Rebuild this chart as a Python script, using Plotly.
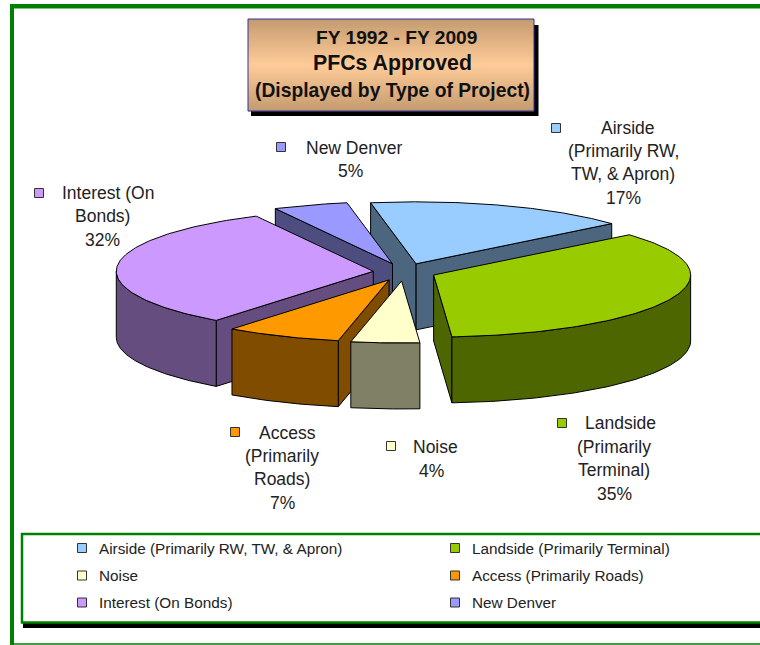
import numpy as np
import plotly.graph_objects as go

# ---- data ----
categories = ["Airside (Primarily RW, TW, & Apron)", "Landside (Primarily Terminal)", "Noise",
              "Access (Primarily Roads)", "Interest (On Bonds)", "New Denver"]
shares = [16.6, 35.1, 4.3, 7.3, 32.0, 4.7]
explode = [0.14, 0.125, 0.145, 0.14, 0.12, 0.14]
title_lines = ["FY 1992 - FY 2009", "PFCs Approved", "(Displayed by Type of Project)"]
label_lines = [
    ["Airside", "(Primarily RW,", "TW, & Apron)", "17%"],
    ["Landside", "(Primarily", "Terminal)", "35%"],
    ["Noise", "4%"],
    ["Access", "(Primarily", "Roads)", "7%"],
    ["Interest (On", "Bonds)", "32%"],
    ["New Denver", "5%"],
]

# ---- styles / layout ----
top_colors = ["#99CCFF", "#99CC00", "#FFFFCC", "#FF9900", "#CC99FF", "#9999FF"]
wall_colors = ["#4D6680", "#4D6600", "#808066", "#804D00", "#664D80", "#4D4D80"]
draw_order = [0, 5, 4, 1, 3, 2]
CX, CY, RX, RY, DEPTH, START = 404, 272, 257, 62, 66, -10.2
GREEN = "#008000"
FONT = "Liberation Sans, Arial, sans-serif"
INK = "#222222"

label_x = [[628, 623, 623, 623], [620, 614, 614, 614], [435, 431], [287, 282, 282, 282], [108, 102, 102], [354, 350]]
label_y = [[127.5, 150.5, 173.5, 197.5], [422.5, 446.5, 469.5, 493.5], [446.5, 470.5], [432.5, 455.5, 478.5, 502.5],
           [192.5, 215.5, 239.5], [147.5, 170.5]]
key_x = [556, 562, 391, 235, 39, 281]
key_y = [128, 423, 446, 432, 193, 147]
legend_x = [82, 455, 82, 455, 82, 455]
legend_y = [548, 548, 575.5, 575.5, 602.5, 602.5]
title_x = [396.5, 392, 392]
title_y = [37, 63, 90.5]
title_size = [19.2, 21.3, 19.3]

fig = go.Figure()


def poly(xs, ys, fill):
    fig.add_trace(go.Scatter(x=xs, y=ys, mode="lines", fill="toself", fillcolor=fill,
                             line=dict(color="#000000", width=1), hoverinfo="skip", showlegend=False))


def rim(t, ax, ay):
    r = np.radians(t)
    return ax + RX * np.sin(r), ay - RY * np.cos(r)


edges = START + np.cumsum([0] + shares) * 3.6
for i in draw_order:
    t0, t1 = edges[i], edges[i + 1]
    mid = np.radians((t0 + t1) / 2)
    ax = CX + explode[i] * RX * np.sin(mid)
    ay = CY - explode[i] * RY * np.cos(mid)
    # cut faces that look toward the viewer
    for t, visible in ((t0, np.sin(np.radians(t0)) < 0), (t1, np.sin(np.radians(t1)) > 0)):
        if visible:
            ex, ey = rim(t, ax, ay)
            poly([ax, ex, ex, ax, ax], [ay, ey, ey + DEPTH, ay + DEPTH, ay], wall_colors[i])
    # outer wall, front half only
    a0, a1 = max(t0, 90), min(t1, 270)
    if a1 > a0:
        ts = np.linspace(a0, a1, 80)
        rx, ry = rim(ts, ax, ay)
        poly(np.r_[rx, rx[::-1], rx[0]], np.r_[ry, ry[::-1] + DEPTH, ry[0]], wall_colors[i])
    # top face
    ts = np.linspace(t0, t1, 120)
    rx, ry = rim(ts, ax, ay)
    poly(np.r_[ax, rx, ax], np.r_[ay, ry, ay], top_colors[i])

# keys beside the slice labels and in the legend box
fig.add_trace(go.Scatter(x=key_x + legend_x, y=key_y + legend_y, mode="markers", showlegend=False, hoverinfo="skip",
                         marker=dict(symbol="square", size=9, color=top_colors + top_colors,
                                     line=dict(color="#333333", width=1))))

shapes = []


def rect(x0, y0, x1, y1, fill=None, line=None, lw=0):
    shapes.append(dict(type="rect", xref="x", yref="y", x0=x0, y0=y0, x1=x1, y1=y1, layer="below",
                       fillcolor=fill or "rgba(0,0,0,0)", line=dict(color=line or "rgba(0,0,0,0)", width=lw)))


# outer frame
rect(10, 4, 770, 8.5, fill=GREEN)
rect(10, 4, 14, 645, fill=GREEN)
rect(10, 643.3, 770, 644.8, fill=GREEN)
# title box with gradient
rect(251, 25, 538.5, 116, fill="#000000")
T0, T1 = 19, 111
for k in range(T0, T1):
    f = 1 - abs((k + 0.5 - T0) / (T1 - T0) - 0.5) * 2
    c = [196 + (255 - 196) * f, 155 + (204 - 155) * f, 112 + (153 - 112) * f]
    rect(248, k, 534, k + 1.2, fill="rgb(%d,%d,%d)" % tuple(c))
rect(248, 19, 534, 111, line="#333399", lw=1)
# legend box
rect(23, 623, 780, 628, fill="#000000")
rect(22, 534, 780, 622.5, fill="#FFFFFF", line=GREEN, lw=2.5)

ann = []


def text(x, y, s, size, anchor="center", bold=False):
    ann.append(dict(x=x, y=y, xref="x", yref="y", text="<b>%s</b>" % s if bold else s, showarrow=False,
                    xanchor=anchor, yanchor="middle", font=dict(family=FONT, size=size, color=INK if not bold else "#111111")))


for s, x, y, sz in zip(title_lines, title_x, title_y, title_size):
    text(x, y, s, sz, bold=True)
for lines, xs, ys in zip(label_lines, label_x, label_y):
    for s, x, y in zip(lines, xs, ys):
        text(x, y, s, 17.5)
for s, x, y in zip(categories, legend_x, legend_y):
    text(x + 15, y, s, 15.3, anchor="left")

fig.update_layout(width=760, height=645, autosize=False, margin=dict(l=0, r=0, t=0, b=0),
                  paper_bgcolor="#FFFFFF", plot_bgcolor="#FFFFFF", shapes=shapes, annotations=ann,
                  xaxis=dict(range=[0, 760], visible=False, fixedrange=True),
                  yaxis=dict(range=[645, 0], visible=False, fixedrange=True))

fig.write_html("out.html", config={"displayModeBar": False},
               post_script="document.body.style.margin='0';document.body.style.overflow='hidden';")
